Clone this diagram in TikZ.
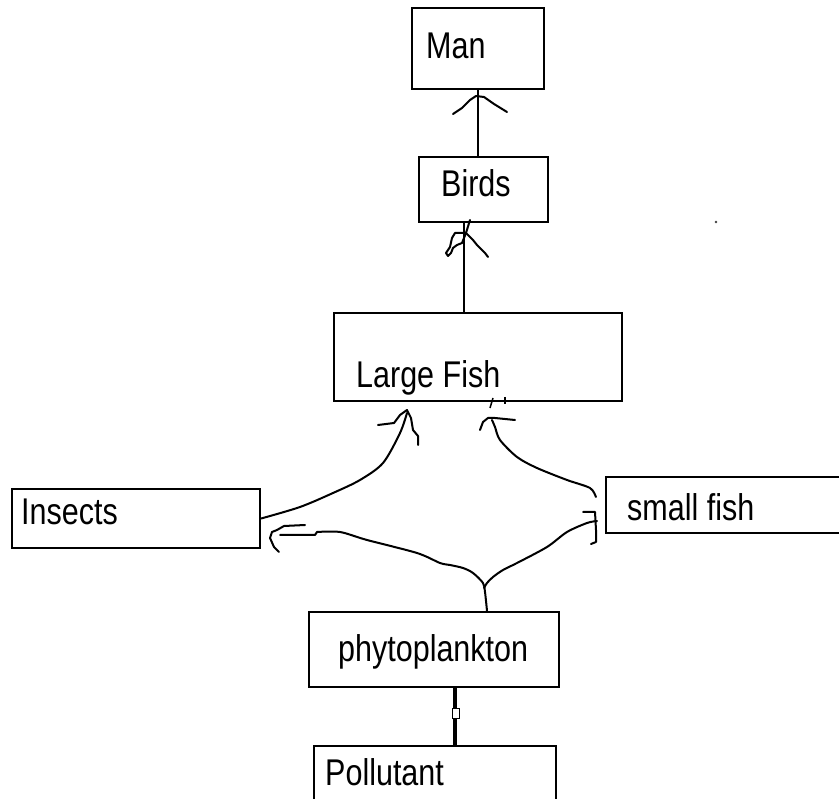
\documentclass[tikz,border=0pt]{standalone}
\usepackage{fontspec}
\setmainfont{Liberation Sans}
\begin{document}
\begin{tikzpicture}[x=1pt,y=-1pt,
  box/.style={draw, line width=2.2pt, inner sep=0pt},
  lbl/.style={anchor=base west, inner sep=0pt, font=\fontsize{30.5}{36}\selectfont},
  conn/.style={line width=2pt, line join=round, line cap=round},
  scrib/.style={line width=2pt, line join=round, line cap=round}]
\useasboundingbox (0,0) rectangle (839,799);
% boxes
\node[box, minimum width=132pt, minimum height=81pt] (man) at (478,48.5) {};
\node[box, minimum width=129pt, minimum height=65pt] (birds) at (483.5,189.5) {};
\node[box, minimum width=288pt, minimum height=88pt] (lf) at (478,357) {};
\node[box, minimum width=248pt, minimum height=59pt] (insects) at (136,518.5) {};
\node[box, minimum width=244pt, minimum height=56pt] (sfish) at (728,505) {};
\node[box, minimum width=250pt, minimum height=75pt] (phyto) at (434,649.5) {};
\node[box, minimum width=242pt, minimum height=64pt] (poll) at (435,778) {};
% labels
\node[lbl] (tman) at (426,59) {\scalebox{1}[1.22]{Man}};
\node[lbl] (tbirds) at (441,197) {\scalebox{1}[1.22]{Birds}};
\node[lbl] (tlf) at (356,388) {\scalebox{1}[1.22]{Large Fish}};
\node[lbl] (tins) at (21,525) {\scalebox{1}[1.22]{Insects}};
\node[lbl] (tsf) at (627,521) {\scalebox{1}[1.22]{small fish}};
\node[lbl] (tphy) at (338,662) {\scalebox{1}[1.22]{phytoplankton}};
\node[lbl] (tpol) at (325,785) {\scalebox{1}[1.22]{Pollutant}};
% stray dot
\fill[black!75] (716,222) circle (1.3);
% Birds -> Man
\draw[conn] (man.south |- birds.north) -- (man.south);
\draw[scrib] (453,114) -- (462,108) -- (470,100) -- (476,96) -- (484,97) -- (494,104) -- (507,112);
% Large Fish -> Birds
\draw[conn] ([xshift=-14pt]lf.north) -- ([xshift=-14pt]lf.north |- birds.south);
\draw[scrib] (470,220) -- (466,233) -- (455,233) -- (452,238) -- (450,247) -- (446,253) -- (448,256) -- (451,253) -- (453,248) -- (457,245) -- (462,243) -- (466,233);
\draw[scrib] (466,233) -- (470,237) -- (473,240) -- (477,245) -- (480,248) -- (485,253) -- (488,257);
% Insects -> Large Fish
\draw[conn] plot[smooth, tension=0.5] coordinates {(insects.east) (300,507) (333,493) (360,480) (383,463) (400,433) (407,413)};
\draw[scrib] (378,425) -- (394,423) -- (400,415) -- (407,410) -- (411,418) -- (413,430) -- (418,436) -- (418,445);
% small fish -> Large Fish
\draw[conn] plot[smooth, tension=0.5] coordinates {([xshift=-9pt,yshift=8pt]sfish.west) (590,488) (567,480) (537,468) (517,457) (500,440) (495,427) (492,420)};
\draw[scrib] (480,430) -- (483,422) -- (488,418) -- (495,418) -- (515,420);
\draw[line width=1.5pt] (490,408) -- (493,398);
\draw[line width=1.5pt] (505,397) -- (505,404);
% phytoplankton -> Insects
\draw[conn] plot[smooth, tension=0.5] coordinates {([xshift=53pt]phyto.north) (485,592) (483,583) (473,573) (463,568) (450,565) (440,563) (417,553) (367,540) (340,532) (317,532)};
\draw[conn] (317,532) -- (315,535) -- (280,535);
\draw[scrib] (305,525) -- (284,526) -- (277,530) -- (272,532) -- (270,538) -- (274,547) -- (279,552);
% phytoplankton -> small fish
\draw[conn] plot[smooth, tension=0.5] coordinates {(484,588) (487,583) (493,577) (503,570) (517,563) (547,547) (567,532) (587,523) (597,521)};
\draw[scrib] (583,512) -- (595,512) -- (596,530) -- (596,542) -- (591,544);
% phytoplankton -- Pollutant
\draw[line width=4pt] ([xshift=21pt]phyto.south) -- ([xshift=21pt]phyto.south |- poll.north);
\node[draw, fill=white, line width=1pt, minimum width=7pt, minimum height=10pt, inner sep=0pt] (mk) at (455.5,713) {};
\end{tikzpicture}
\end{document}
